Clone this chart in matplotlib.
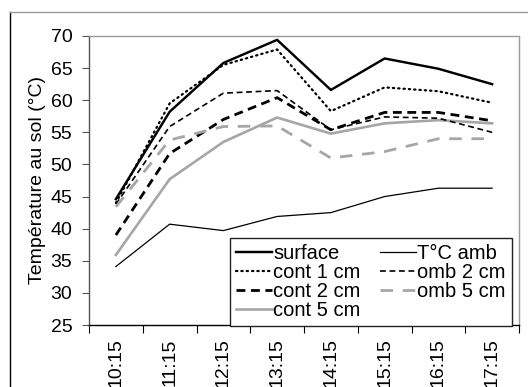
import matplotlib
matplotlib.use("Agg")
import matplotlib.pyplot as plt
from matplotlib.lines import Line2D

times = ["10:15", "11:15", "12:15", "13:15", "14:15", "15:15", "16:15", "17:15"]
surface = [44.6, 58.2, 65.8, 69.4, 61.6, 66.5, 64.9, 62.5]
t_amb = [34.1, 40.7, 39.7, 41.9, 42.5, 45.0, 46.3, 46.3]
cont1 = [44.0, 59.5, 65.5, 67.9, 58.3, 62.0, 61.4, 59.6]
omb2 = [43.8, 55.9, 61.1, 61.5, 55.4, 57.4, 57.2, 55.0]
cont2 = [39.0, 51.7, 57.0, 60.4, 55.4, 58.1, 58.1, 56.8]
omb5 = [43.4, 53.8, 55.9, 56.0, 51.0, 52.0, 54.0, 54.0]
cont5 = [35.9, 47.7, 53.5, 57.3, 54.8, 56.4, 56.9, 56.4]
yticks = [25, 30, 35, 40, 45, 50, 55, 60, 65, 70]

plt.rcParams['font.family'] = ['Liberation Sans', 'DejaVu Sans']

fig = plt.figure(figsize=(5.28, 3.87), dpi=100)
ax = fig.add_axes([89/528, 1-325/387, 430/528, 289/387])

# outer chart border: black left side, gray top
fig.add_artist(Line2D([9.5/528, 9.5/528], [0, 1-12/387], transform=fig.transFigure,
                      color='black', lw=1.0))
fig.add_artist(Line2D([9.5/528, 1], [1-12/387, 1-12/387], transform=fig.transFigure,
                      color='#9a9a9a', lw=1.0))

x = list(range(len(times)))
gray = '#a6a6a6'
l_surface, = ax.plot(x, surface, color='black', lw=1.75, label='surface')
l_cont1, = ax.plot(x, cont1, color='black', lw=1.6, linestyle=(0, (0.6, 1.8)), dash_capstyle='round', label='cont 1 cm')
l_cont2, = ax.plot(x, cont2, color='black', lw=2.0, linestyle=(0, (3.2, 2.0)), label='cont 2 cm')
l_cont5, = ax.plot(x, cont5, color=gray, lw=1.9, label='cont 5 cm')
l_amb, = ax.plot(x, t_amb, color='black', lw=0.9, label='T°C amb')
l_omb2, = ax.plot(x, omb2, color='black', lw=1.2, linestyle=(0, (3.5, 2.2)), label='omb 2 cm')
l_omb5, = ax.plot(x, omb5, color=gray, lw=2.0, linestyle=(0, (4.5, 3.5)), label='omb 5 cm')

ax.set_xlim(-0.5, 7.5)
ax.set_ylim(25, 70)
ax.set_yticks(yticks)
ax.set_xticks(x)
ax.set_xticklabels(times, rotation=90)
ax.set_xticks([i - 0.5 for i in range(len(times) + 1)], minor=True)
ax.tick_params(axis='x', which='major', length=0, pad=9.5, labelsize=14)
ax.tick_params(axis='x', which='minor', length=6, direction='out', color='black', width=0.8)
ax.tick_params(axis='y', which='major', length=5, direction='out', color='#555555', width=0.8, labelsize=14, pad=7)
ax.set_ylabel('Température au sol (°C)', fontsize=14, labelpad=3)

ax.spines['left'].set_color('#555555')
ax.spines['bottom'].set_color('black')
ax.spines['top'].set_color('#9a9a9a')
ax.spines['right'].set_color('#9a9a9a')
for s in ax.spines.values():
    s.set_linewidth(1.0)

handles = [l_surface, l_cont1, l_cont2, l_cont5, l_amb, l_omb2, l_omb5]
leg = ax.legend(handles=handles, labels=[h.get_label() for h in handles], ncol=2,
                loc='upper left', bbox_to_anchor=(0.328, 0.301), fontsize=14.5,
                frameon=True, fancybox=False, edgecolor='#222222', framealpha=1,
                handlelength=1.8, handletextpad=0.05, labelspacing=0.0,
                columnspacing=0.95, borderpad=0.3, borderaxespad=0)
leg.get_frame().set_linewidth(1.0)

fig.savefig('out.png', dpi=100)
